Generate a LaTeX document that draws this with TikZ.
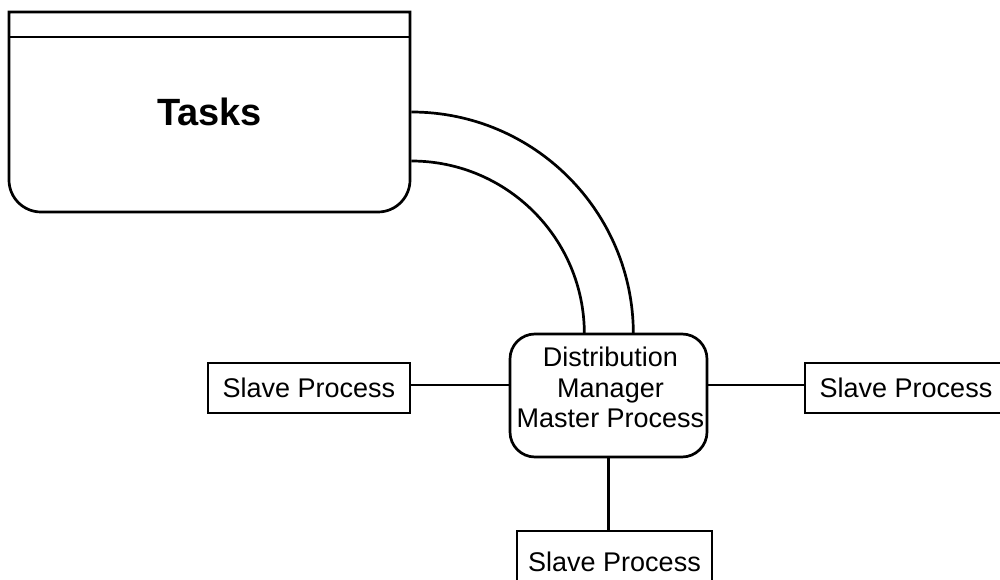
\documentclass[tikz,border=0pt]{standalone}
\usepackage{fontspec}
\setmainfont{Liberation Sans}
\begin{document}
\begin{tikzpicture}[x=1pt,y=1pt,
  line width=2.7pt,
  label/.style={font=\fontsize{27}{30.5}\selectfont, inner sep=0pt, align=center},
  slavebox/.style={draw, rectangle, minimum width=202pt, minimum height=50pt,
    font=\fontsize{27}{30.5}\selectfont, inner sep=0pt},
  managerbox/.style={draw, rectangle, rounded corners=25pt, minimum width=197pt,
    minimum height=123pt, inner sep=0pt}]
\useasboundingbox (0,0) rectangle (1000,580);
\clip (0,0) rectangle (1000,580);

% task store: header strip over a box with rounded lower corners
\draw (9,568) -- (9,400) arc[start angle=180,end angle=270,radius=32]
  -- (378,368) arc[start angle=270,end angle=360,radius=32] -- (410,568) -- cycle;
\draw (9,543) -- (410,543);
\node[minimum width=401pt, minimum height=200pt, inner sep=0pt,
  font=\fontsize{38}{40}\selectfont\bfseries] (tasks) at (209.5,468) {Tasks};

% distribution manager
\node[managerbox] (mgr) at (608.5,184.5) {};
\node[label] (mgrtext) at ([xshift=2pt,yshift=8pt]mgr.center) {Distribution\\Manager\\Master Process};

% slave processes
\node[slavebox] (ls) at (309,192) {Slave Process};
\node[slavebox] (rs) at (906,192) {Slave Process};
\node[slavebox, minimum width=195pt, minimum height=62pt] (bs) at (614.5,18) {Slave Process};

% pipe from the task store to the manager
\draw (tasks.east) arc[start angle=90,end angle=0,radius=222];
\draw ([yshift=-49pt]tasks.east) arc[start angle=90,end angle=0,radius=173];

% links to the slaves
\draw ([yshift=3pt]ls.east) -- ([yshift=3pt]ls.east -| mgr.west);
\draw ([yshift=3pt]rs.west) -- ([yshift=3pt]rs.west -| mgr.east);
\draw (mgr.south) -- (mgr.south |- bs.north);
\end{tikzpicture}
\end{document}
